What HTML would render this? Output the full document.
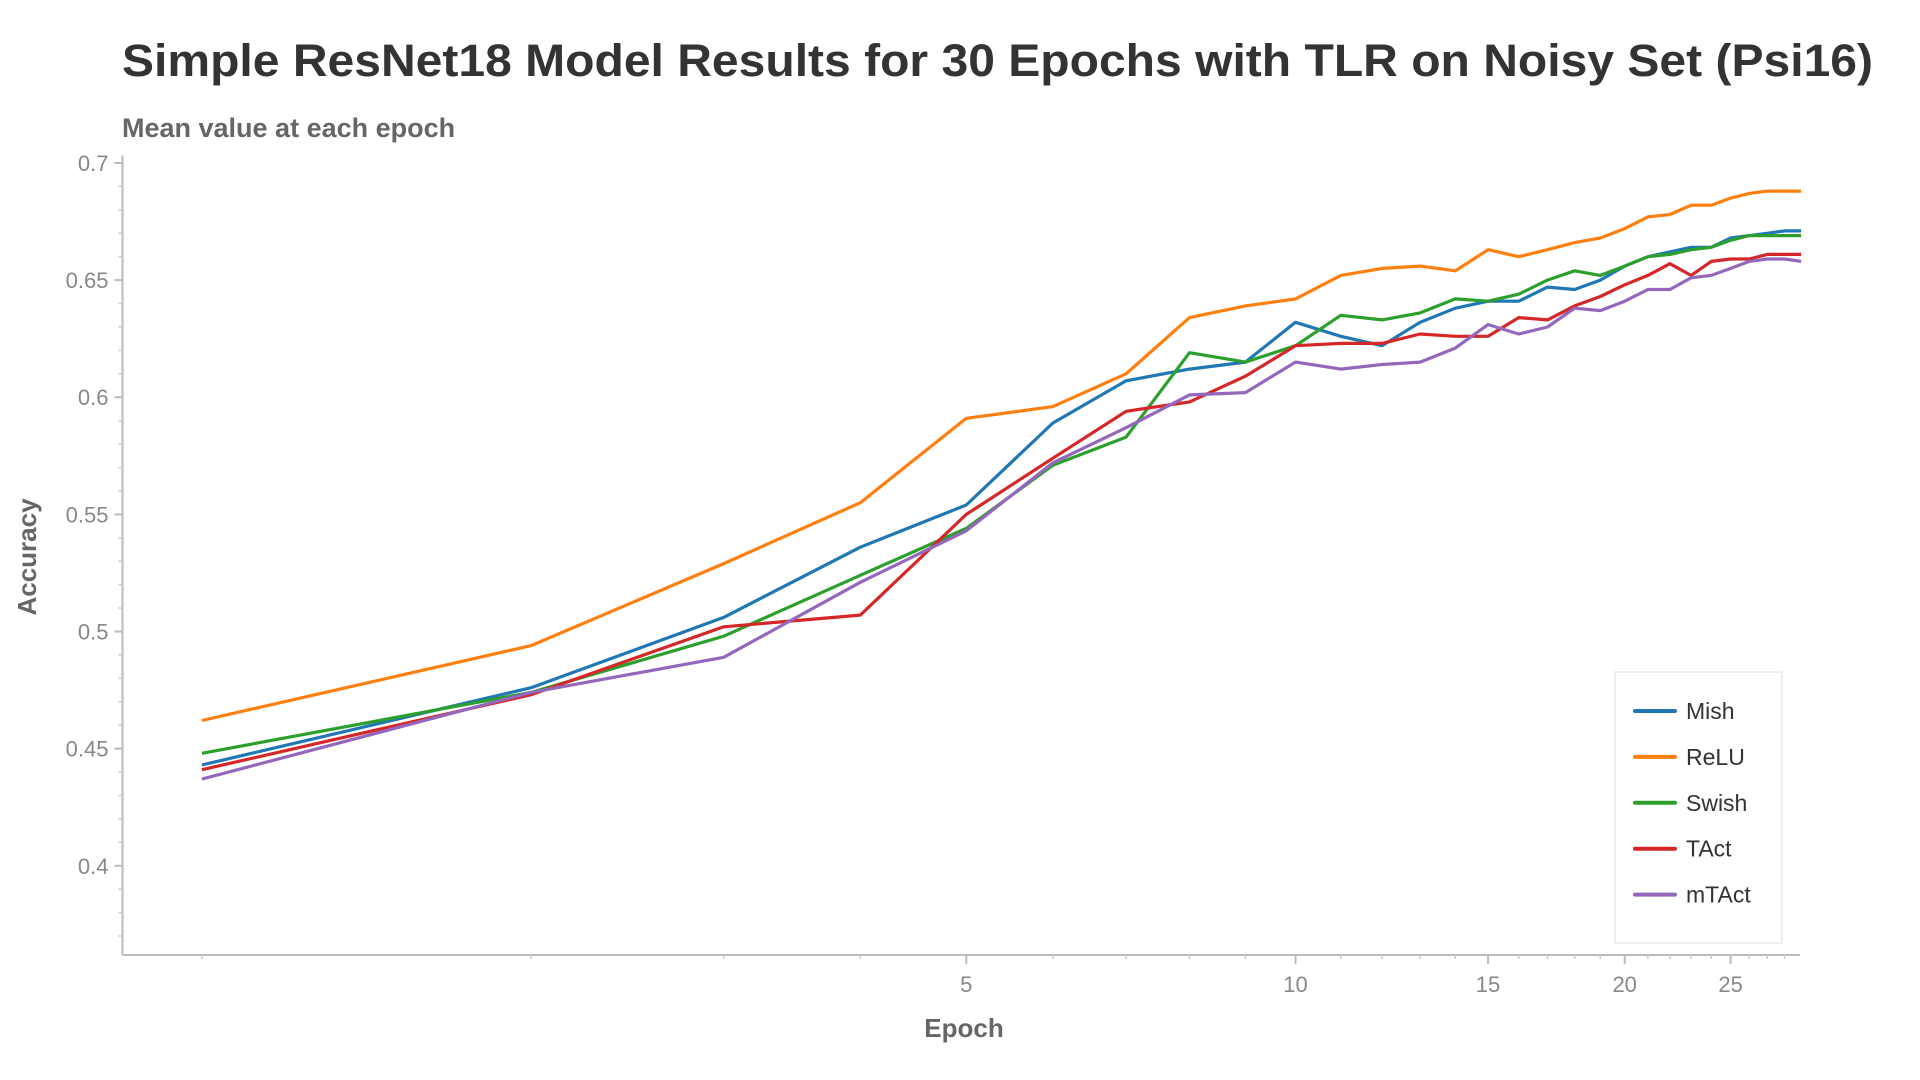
<!DOCTYPE html>
<html><head><meta charset="utf-8"><style>
html,body{margin:0;padding:0;background:#fff;}
svg{display:block;font-family:"Liberation Sans",Arial,sans-serif;}
</style></head><body>
<svg id="chart" width="1920" height="1080" viewBox="0 0 1920 1080">
<text x="122" y="76" font-size="45" font-weight="bold" fill="#333" textLength="1751" lengthAdjust="spacingAndGlyphs">Simple ResNet18 Model Results for 30 Epochs with TLR on Noisy Set (Psi16)</text>
<text x="122" y="137" font-size="27" font-weight="bold" fill="#666">Mean value at each epoch</text>
<g id="axes"></g>
<g id="series"></g>
<g id="legend"></g>
</svg>
<script>
const epochs = [1,2,3,4,5,6,7,8,9,10,11,12,13,14,15,16,17,18,19,20,21,22,23,24,25,26,27,28,29];
const seriesNames = ["Mish","ReLU","Swish","TAct","mTAct"];
const seriesColors = ["#1f77b4","#ff7f0e","#2ca02c","#d62728","#9467bd"];
const mish  = [0.443,0.476,0.506,0.536,0.554,0.589,0.607,0.612,0.615,0.632,0.626,0.622,0.632,0.638,0.641,0.641,0.647,0.646,0.650,0.656,0.660,0.662,0.664,0.664,0.668,0.669,0.670,0.671,0.671];
const relu  = [0.462,0.494,0.529,0.555,0.591,0.596,0.610,0.634,0.639,0.642,0.652,0.655,0.656,0.654,0.663,0.660,0.663,0.666,0.668,0.672,0.677,0.678,0.682,0.682,0.685,0.687,0.688,0.688,0.688];
const swish = [0.448,0.474,0.498,0.524,0.544,0.571,0.583,0.619,0.615,0.622,0.635,0.633,0.636,0.642,0.641,0.644,0.650,0.654,0.652,0.656,0.660,0.661,0.663,0.664,0.667,0.669,0.669,0.669,0.669];
const tact  = [0.441,0.473,0.502,0.507,0.550,0.574,0.594,0.598,0.609,0.622,0.623,0.623,0.627,0.626,0.626,0.634,0.633,0.639,0.643,0.648,0.652,0.657,0.652,0.658,0.659,0.659,0.661,0.661,0.661];
const mtact = [0.437,0.474,0.489,0.521,0.543,0.572,0.587,0.601,0.602,0.615,0.612,0.614,0.615,0.621,0.631,0.627,0.630,0.638,0.637,0.641,0.646,0.646,0.651,0.652,0.655,0.658,0.659,0.659,0.658];
const yTicks = [0.4,0.45,0.5,0.55,0.6,0.65,0.7];
const yTickLabels = ["0.4","0.45","0.5","0.55","0.6","0.65","0.7"];
const xTicks = [5,10,15,20,25];
const xTickLabels = ["5","10","15","20","25"];

const NS="http://www.w3.org/2000/svg";
const L=122.5,R=1800,T=155.5,B=955;
const xMin=0.846,xMax=28.93,yMin=0.3619,yMax=0.7032;
function xs(v){return L+(Math.log10(v)-Math.log10(xMin))/(Math.log10(xMax)-Math.log10(xMin))*(R-L);}
function ys(v){return B-(v-yMin)/(yMax-yMin)*(B-T);}
function mk(tag,attrs,parent){const e=document.createElementNS(NS,tag);for(const k in attrs)e.setAttribute(k,attrs[k]);parent.appendChild(e);return e;}
const axes=document.getElementById('axes');
const yAxis=mk('line',{x1:L,y1:T,x2:L,y2:B,stroke:'#bbb','stroke-width':2},axes);


const xAxis=mk('line',{x1:L,y1:B,x2:R,y2:B,stroke:'#bbb','stroke-width':2},axes);


for(let v=0.37;v<=0.7001;v+=0.01){const y=ys(v);mk('line',{x1:L-4,y1:y,x2:L,y2:y,stroke:'#ccc','stroke-width':1.5},axes);}
yTicks.forEach((v,i)=>{const y=ys(v);
 mk('line',{x1:L-8,y1:y,x2:L,y2:y,stroke:'#bbb','stroke-width':2},axes);
 const t=mk('text',{x:L-14,y:y+8,'font-size':22,fill:'#888','text-anchor':'end'},axes);t.textContent=yTickLabels[i];
 
 
});
const minorX=[1,2,3,4,6,7,8,9,11,12,13,14,16,17,18,19,21,22,23,24,26,27,28];
minorX.forEach(v=>{const x=xs(v);mk('line',{x1:x,y1:B,x2:x,y2:B+4,stroke:'#ccc','stroke-width':1.5},axes);});
xTicks.forEach((v,i)=>{const x=xs(v);
 mk('line',{x1:x,y1:B,x2:x,y2:B+9,stroke:'#bbb','stroke-width':2},axes);
 const t=mk('text',{x:x,y:B+37,'font-size':22,fill:'#888','text-anchor':'middle'},axes);t.textContent=xTickLabels[i];
 
 
});
const xt=mk('text',{x:964,y:1037,'font-size':26,'font-weight':'bold',fill:'#666','text-anchor':'middle'},axes);xt.textContent='Epoch';


const yt=mk('text',{x:0,y:0,'font-size':26,'font-weight':'bold',fill:'#666','text-anchor':'middle',transform:'translate(36,557) rotate(-90)'},axes);yt.textContent='Accuracy';



const allSeries=[mish,relu,swish,tact,mtact];
const sg=document.getElementById('series');
allSeries.forEach((vals,si)=>{
 const d=vals.map((v,i)=>(i?'L':'M')+xs(epochs[i]).toFixed(1)+','+ys(v).toFixed(1)).join(' ');
 const p=mk('path',{d:d,fill:'none',stroke:seriesColors[si],'stroke-width':3.2,'stroke-linejoin':'round'},sg);
 
 
});
const lg=document.getElementById('legend');
const box=mk('rect',{x:1615,y:672,width:167,height:271,fill:'#fff',stroke:'#eee','stroke-width':2},lg);


seriesNames.forEach((n,i)=>{const y=711+i*45.9;
 const g=mk('g',{},lg);
 
 
 mk('line',{x1:1635,y1:y,x2:1675,y2:y,stroke:seriesColors[i],'stroke-width':4,'stroke-linecap':'round'},g);
 const t=mk('text',{x:1686,y:y+8,'font-size':23,fill:'#333'},g);t.textContent=n;
});
</script>
</body></html>
